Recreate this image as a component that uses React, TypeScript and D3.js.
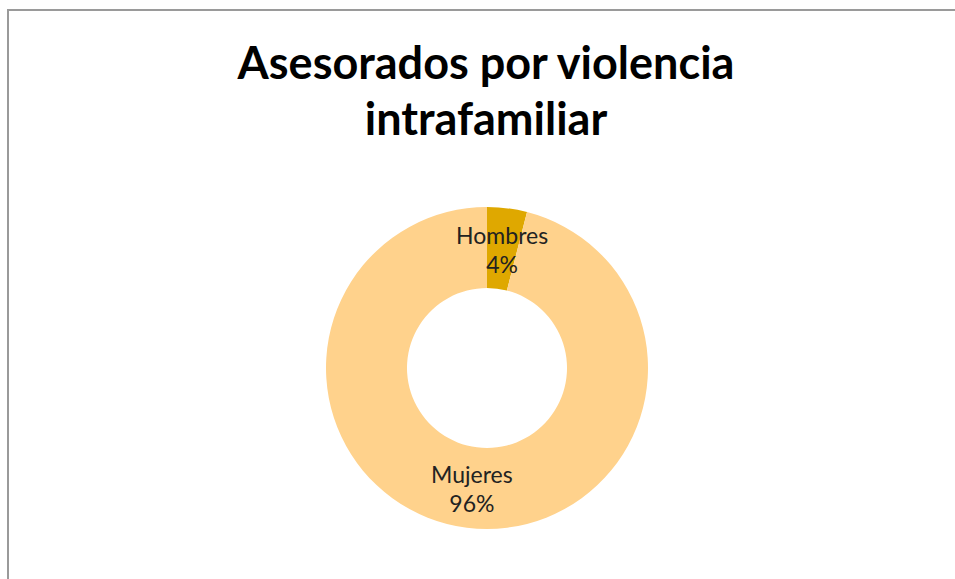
import { useEffect, useRef } from "react";
import * as d3 from "d3";

const W = 955;
const H = 579;

const titleLines = ["Asesorados por violencia", "intrafamiliar"];
const categories = ["Hombres", "Mujeres"];
const values = [4, 96];
const colors = ["#DFA800", "#FFD28C"];

export default function App() {
  const svgRef = useRef<SVGSVGElement>(null);

  useEffect(() => {
    if (!svgRef.current) return;
    const svg = d3.select(svgRef.current);
    svg.selectAll("*").remove();

    svg
      .append("rect")
      .attr("x", 8)
      .attr("y", 10)
      .attr("width", W + 20)
      .attr("height", H + 20)
      .attr("fill", "#fff")
      .attr("stroke", "#9a9a9a")
      .attr("stroke-width", 2);

    svg
      .append("g")
      .selectAll("text")
      .data(titleLines)
      .join("text")
      .attr("x", 486)
      .attr("y", (_, i) => 79 + i * 56)
      .attr("text-anchor", "middle")
      .attr("font-family", "Lato, sans-serif")
      .attr("font-weight", "bold")
      .attr("font-size", 45)
      .attr("fill", "#000")
      .text((d) => d);

    const cx = 487;
    const cy = 368;
    const outerR = 161;
    const innerR = 80;

    const pie = d3
      .pie<number>()
      .sort(null)
      .value((d) => d);
    const arcs = pie(values);
    const arc = d3.arc<d3.PieArcDatum<number>>().innerRadius(innerR).outerRadius(outerR);

    const g = svg.append("g").attr("transform", `translate(${cx},${cy})`);

    g.selectAll("path")
      .data(arcs)
      .join("path")
      .attr("d", arc)
      .attr("fill", (_, i) => colors[i]);

    const total = d3.sum(values);
    const labels = g
      .selectAll("g.lbl")
      .data(arcs)
      .join("g")
      .attr("class", "lbl")
      .attr("transform", (d) => {
        const [x, y] = arc.centroid(d);
        return `translate(${x},${y})`;
      });

    labels
      .append("text")
      .attr("text-anchor", "middle")
      .attr("font-family", "Lato, sans-serif")
      .attr("font-size", 23)
      .attr("fill", "#222")
      .attr("y", -4.5)
      .text((_, i) => categories[i]);

    labels
      .append("text")
      .attr("text-anchor", "middle")
      .attr("font-family", "Lato, sans-serif")
      .attr("font-size", 23)
      .attr("fill", "#222")
      .attr("y", 24.5)
      .text((d) => `${Math.round((d.value / total) * 100)}%`);
  }, []);

  return (
    <svg
      ref={svgRef}
      width={W}
      height={H}
      viewBox={`0 0 ${W} ${H}`}
      style={{ position: "absolute", left: 0, top: 0 }}
    />
  );
}
